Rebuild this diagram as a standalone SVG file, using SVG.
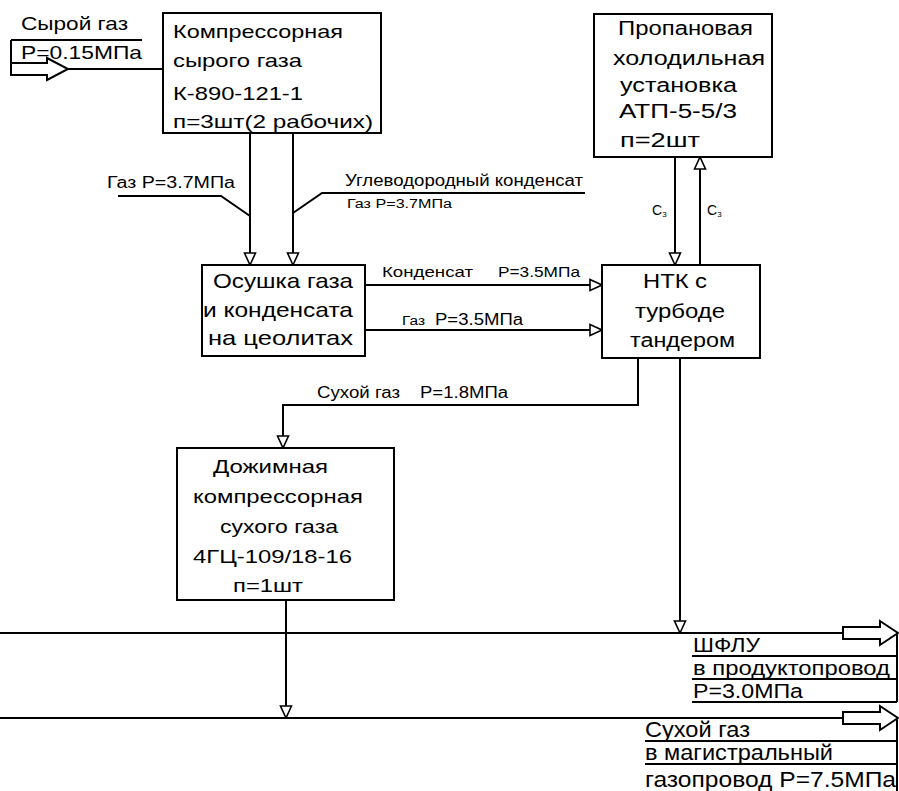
<svg xmlns="http://www.w3.org/2000/svg" width="899" height="791" viewBox="0 0 899 791">
<style>
.box{fill:#fff;stroke:#000;stroke-width:2}
.ln{fill:none;stroke:#000;stroke-width:2}
.blk{fill:#fff;stroke:#000;stroke-width:2;stroke-linejoin:miter}
text{font-family:"Liberation Sans",Arial,sans-serif;fill:#000}
.f19{font-size:19px}
.f20{font-size:20px}
.f21{font-size:21px}
.f22{font-size:22px}
.f16{font-size:16px}
.f15{font-size:15px}
.f12{font-size:12px}
.f14{font-size:14px}
.f8{font-size:8px}
</style>
<defs>
<marker id="ah" viewBox="0 0 14 14" refX="13" refY="7" markerWidth="14" markerHeight="14" markerUnits="userSpaceOnUse" orient="auto">
<path d="M1,1.5 L13,7 L1,12.5 Z" fill="#fff" stroke="#000" stroke-width="1.6"/>
</marker>
</defs>
<rect width="899" height="791" fill="#fff"/>

<g id="connectors">
<line class="ln" x1="68" y1="69" x2="163" y2="69"/>
<line class="ln" x1="250" y1="133" x2="250" y2="265" marker-end="url(#ah)"/>
<polyline class="ln" points="118,196 221,196 250,216"/>
<line class="ln" x1="293" y1="133" x2="293" y2="265" marker-end="url(#ah)"/>
<polyline class="ln" points="585,193 322,193 293,213"/>
<line class="ln" x1="365" y1="285" x2="602" y2="285" marker-end="url(#ah)"/>
<line class="ln" x1="365" y1="330" x2="602" y2="330" marker-end="url(#ah)"/>
<line class="ln" x1="675" y1="157" x2="675" y2="265" marker-end="url(#ah)"/>
<line class="ln" x1="700" y1="265" x2="700" y2="157" marker-end="url(#ah)"/>
<polyline class="ln" points="638,358 638,405 283,405 283,448" marker-end="url(#ah)"/>
<line class="ln" x1="680" y1="358" x2="680" y2="633" marker-end="url(#ah)"/>
<line class="ln" x1="286" y1="600" x2="286" y2="718" marker-end="url(#ah)"/>
<line class="ln" x1="0" y1="633" x2="843" y2="633"/>
<line class="ln" x1="0" y1="718" x2="843" y2="718"/>

<text class="f16" x="107" y="188" textLength="128" lengthAdjust="spacingAndGlyphs">Газ P=3.7МПа</text>
<text class="f16" x="345" y="186" textLength="238" lengthAdjust="spacingAndGlyphs">Углеводородный конденсат</text>
<text class="f12" x="347" y="208" textLength="105" lengthAdjust="spacingAndGlyphs">Газ P=3.7МПа</text>
<text class="f15" y="277"><tspan x="382" textLength="91" lengthAdjust="spacingAndGlyphs">Конденсат</tspan><tspan x="498" textLength="82" lengthAdjust="spacingAndGlyphs">P=3.5МПа</tspan></text>
<text y="325"><tspan class="f12" x="402" textLength="23" lengthAdjust="spacingAndGlyphs">Газ</tspan><tspan class="f16" x="435" textLength="88" lengthAdjust="spacingAndGlyphs">P=3.5МПа</tspan></text>
<text class="f16" y="398"><tspan x="317" textLength="83" lengthAdjust="spacingAndGlyphs">Сухой газ</tspan><tspan x="420" textLength="88" lengthAdjust="spacingAndGlyphs">P=1.8МПа</tspan></text>
<text class="f14" x="652" y="215">C<tspan class="f8" dy="2">3</tspan></text>
<text class="f14" x="707" y="215">C<tspan class="f8" dy="2">3</tspan></text>
</g>

<g id="n-input">
<path class="ln" d="M11,40 H142 M11,40 V75"/>
<path class="blk" d="M11,63 H47 V58 L68,69 L47,80 V75 H11 Z"/>
<text class="f19" x="21" y="30" textLength="107" lengthAdjust="spacingAndGlyphs">Сырой газ</text>
<text class="f19" x="21" y="59" textLength="121" lengthAdjust="spacingAndGlyphs">P=0.15МПа</text>
</g>

<g id="n-compressor">
<rect class="box" x="163" y="13" width="218" height="120"/>
<text class="f19" x="173" y="38" textLength="170" lengthAdjust="spacingAndGlyphs">Компрессорная</text>
<text class="f19" x="173" y="67" textLength="129" lengthAdjust="spacingAndGlyphs">сырого газа</text>
<text class="f19" x="173" y="100" textLength="130" lengthAdjust="spacingAndGlyphs">К-890-121-1</text>
<text class="f19" x="173" y="128" textLength="200" lengthAdjust="spacingAndGlyphs">п=3шт(2 рабочих)</text>
</g>

<g id="n-propane">
<rect class="box" x="594" y="14" width="178" height="143"/>
<text class="f20" x="618" y="35" textLength="135" lengthAdjust="spacingAndGlyphs">Пропановая</text>
<text class="f20" x="613" y="65" textLength="152" lengthAdjust="spacingAndGlyphs">холодильная</text>
<text class="f20" x="620" y="92" textLength="117" lengthAdjust="spacingAndGlyphs">установка</text>
<text class="f20" x="619" y="118" textLength="118" lengthAdjust="spacingAndGlyphs">АТП-5-5/3</text>
<text class="f20" x="620" y="147" textLength="80" lengthAdjust="spacingAndGlyphs">п=2шт</text>
</g>

<g id="n-dryer">
<rect class="box" x="202" y="265" width="163" height="91"/>
<text class="f21" x="213" y="288" textLength="140" lengthAdjust="spacingAndGlyphs">Осушка газа</text>
<text class="f21" x="203" y="317" textLength="150" lengthAdjust="spacingAndGlyphs">и конденсата</text>
<text class="f21" x="208" y="345" textLength="145" lengthAdjust="spacingAndGlyphs">на цеолитах</text>
</g>

<g id="n-ntk">
<rect class="box" x="602" y="265" width="158" height="93"/>
<text class="f20" x="643" y="288" textLength="64" lengthAdjust="spacingAndGlyphs">НТК с</text>
<text class="f20" x="635" y="318" textLength="90" lengthAdjust="spacingAndGlyphs">турбоде</text>
<text class="f20" x="630" y="347" textLength="105" lengthAdjust="spacingAndGlyphs">тандером</text>
</g>

<g id="n-booster">
<rect class="box" x="177" y="448" width="217" height="152"/>
<text class="f19" x="213" y="473" textLength="115" lengthAdjust="spacingAndGlyphs">Дожимная</text>
<text class="f19" x="193" y="503" textLength="170" lengthAdjust="spacingAndGlyphs">компрессорная</text>
<text class="f19" x="220" y="533" textLength="118" lengthAdjust="spacingAndGlyphs">сухого газа</text>
<text class="f19" x="193" y="563" textLength="159" lengthAdjust="spacingAndGlyphs">4ГЦ-109/18-16</text>
<text class="f19" x="233" y="592" textLength="70" lengthAdjust="spacingAndGlyphs">п=1шт</text>
</g>

<g id="n-shflu">
<path class="blk" d="M843,627 H880 V621 L898,633 L880,645 V639 H843 Z"/>
<path class="ln" d="M897,633 V702 M692,656 H897 M692,679 H897 M692,702 H897"/>
<text class="f20" x="693" y="652" textLength="67" lengthAdjust="spacingAndGlyphs">ШФЛУ</text>
<text class="f20" x="693" y="675" textLength="197" lengthAdjust="spacingAndGlyphs">в продуктопровод</text>
<text class="f20" x="693" y="698" textLength="110" lengthAdjust="spacingAndGlyphs">P=3.0МПа</text>
</g>

<g id="n-drygas-out">
<path class="blk" d="M843,712 H880 V706 L898,718 L880,730 V724 H843 Z"/>
<path class="ln" d="M897,718 V791 M645,741 H897 M645,764 H897"/>
<text class="f22" x="645" y="737" textLength="105" lengthAdjust="spacingAndGlyphs">Сухой газ</text>
<text class="f22" x="645" y="760" textLength="188" lengthAdjust="spacingAndGlyphs">в магистральный</text>
<text class="f22" x="645" y="787" textLength="251" lengthAdjust="spacingAndGlyphs">газопровод P=7.5МПа</text>
</g>
</svg>
